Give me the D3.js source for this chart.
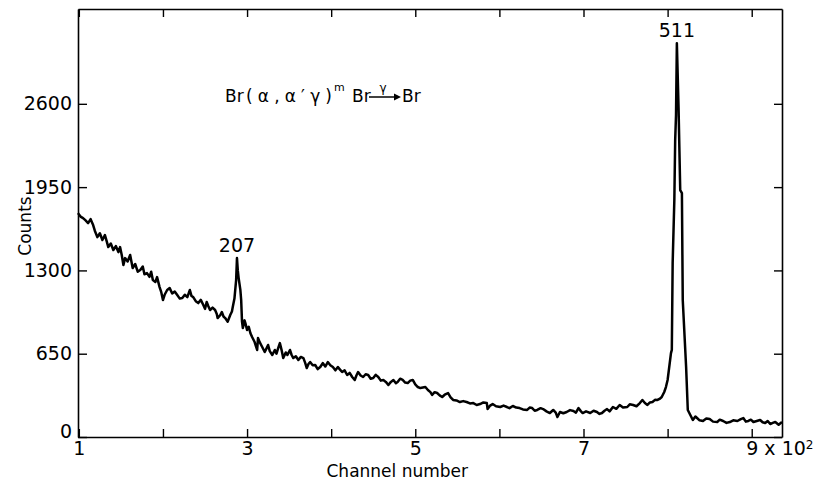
<!DOCTYPE html>
<html>
<head>
<meta charset="utf-8">
<script src="https://cdn.jsdelivr.net/npm/d3@7"></script>
<style>
  html, body { margin: 0; padding: 0; background: #fff; }
  svg { display: block; }
  text { font-family: "DejaVu Sans", sans-serif; fill: #000; }
</style>
</head>
<body>
<svg id="chart" width="817" height="486"></svg>
<script>
// ---- data ----
const channels = [99,102,105,108,111,114,117,119,122,125,128,131,133,135,138,141,144,147,149,151,153,155,158,161,164,167,170,173,176,178,181,184,186,188,191,193,196,198,200,202,205,208,211,214,217,220,223,226,229,232,234,236,239,242,245,248,250,252,254,256,259,262,264,265,268,270,272,274,277,280,282,283,285,287,288,289,290,292,293,294,295,297,298,
300,302,304,306,309,311,312,313,315,318,321,323,325,327,330,333,335,337,339,341,343,346,348,351,353,355,358,361,364,367,369,371,373,375,378,381,384,387,390,393,396,399,402,405,408,410,413,416,419,422,425,428,430,432,435,438,441,444,447,450,453,456,459,462,465,468,471,474,477,479,482,485,488,491,494,497,500,503,506,
512,515,518,520,523,526,529,532,535,539,542,545,549,553,557,561,565,569,573,577,581,585,586,589,592,596,601,605,609,612,616,620,624,628,633,636,639,642,645,649,652,656,660,664,667,669,672,676,680,684,688,691,694,697,699,703,708,712,716,719,722,725,728,731,735,739,743,747,752,755,759,763,767,770,773,776,779,782,785,788,791,793,796,798,800,
804,805,806,808,809,810,811,813,815,817,818,822,
824,827,830,833,835,838,842,846,850,854,859,862,866,870,874,878,883,887,890,893,896,899,902,906,910,913,916,919,922,925,928,932,936];
const counts = [1747,1720,1708,1690,1669,1700,1654,1610,1560,1590,1537,1576,1530,1482,1510,1459,1490,1443,1482,1420,1342,1396,1370,1420,1318,1350,1290,1303,1330,1270,1279,1250,1290,1225,1210,1248,1170,1130,1069,1110,1147,1162,1120,1135,1108,1080,1084,1110,1092,1147,1100,1092,1060,1045,1070,1030,1000,1053,1020,991,1010,991,960,928,950,975,940,928,900,952,980,1014,1080,1225,1396,1300,1240,1150,1069,900,850,910,889,
835,860,810,780,741,700,679,772,740,702,663,690,718,670,640,679,650,694,733,680,616,660,640,679,640,616,630,601,625,616,580,538,570,585,560,562,530,546,577,550,585,560,546,520,546,530,507,520,484,500,468,445,480,507,480,468,490,484,455,460,485,468,440,445,430,406,430,445,420,429,455,445,425,421,440,445,410,390,382,
390,367,350,328,350,343,325,312,330,343,310,289,285,273,280,273,262,265,250,257,270,265,218,245,257,240,234,245,234,225,242,230,226,215,211,230,226,205,211,225,218,200,187,211,190,156,195,185,195,210,203,190,226,200,187,200,187,205,195,180,187,205,218,200,234,220,250,230,234,255,250,240,265,289,265,250,270,273,290,289,300,312,351,390,445,
655,680,1357,1849,2317,2512,3073,2574,1927,1903,1069,546,
211,172,133,160,148,130,125,145,140,120,117,135,125,110,117,130,125,140,148,120,125,135,117,125,133,115,109,125,101,110,117,95,117];

const yTicks = [0, 650, 1300, 1950, 2600];
const xTicks = [100, 200, 300, 400, 500, 600, 700, 800, 900];
const xTickLabels = {100: "1", 300: "3", 500: "5", 700: "7", 900: "9"};
const peakLabels = [{channel: 288, count: 1396, text: "207"}, {channel: 811, count: 3073, text: "511"}];
const xTitle = "Channel number";
const yTitle = "Counts";

// ---- layout ----
const svg = d3.select("#chart");
const L = 78, R = 782, T = 9, B = 437;
const x = d3.scaleLinear().domain([99, 936]).range([L, R]);
const y = d3.scaleLinear().domain([0, 3340]).range([B, T]);
const tickFont = 19;

// bottom axis
const gB = svg.append("g").attr("transform", `translate(0,${B})`)
  .call(d3.axisBottom(x).tickValues(xTicks).tickSize(-8).tickSizeOuter(0).tickPadding(5)
    .tickFormat(d => xTickLabels[d] || ""));
gB.selectAll("text").style("font-size", tickFont + "px");
gB.selectAll(".tick").filter(d => d === 900).select("text")
  .attr("text-anchor", "start").attr("x", -6)
  .text(null)
  .call(t => {
    t.append("tspan").text("9 x 10");
    t.append("tspan").text("2").attr("font-size", 12).attr("dy", "-0.55em");
  });

// top axis
svg.append("g").attr("transform", `translate(0,${T})`)
  .call(d3.axisTop(x).tickValues(xTicks).tickSize(-8).tickSizeOuter(0).tickFormat(""));

// left axis
const gL = svg.append("g").attr("transform", `translate(${L},0)`)
  .call(d3.axisLeft(y).tickValues(yTicks).tickSize(-9).tickSizeOuter(0).tickPadding(6).tickFormat(d3.format("d")));
gL.selectAll("text").style("font-size", tickFont + "px");
gL.selectAll(".tick").filter(d => d === 0).select("text").attr("y", -6);

// right axis
svg.append("g").attr("transform", `translate(${R},0)`)
  .call(d3.axisRight(y).tickValues(yTicks).tickSize(-8).tickSizeOuter(0).tickFormat(""));

svg.selectAll(".domain").attr("stroke", "#000").attr("stroke-width", 1.6);
svg.selectAll(".tick line").attr("stroke", "#000").attr("stroke-width", 1.4);

// spectrum line
const pts = channels.map((c, i) => [c, counts[i]]);
svg.append("path")
  .datum(pts)
  .attr("fill", "none")
  .attr("stroke", "#000")
  .attr("stroke-width", 2.5)
  .attr("stroke-linejoin", "round")
  .attr("d", d3.line().x(d => x(d[0])).y(d => y(d[1])));

// peak labels
svg.selectAll(".peak").data(peakLabels).enter().append("text")
  .attr("class", "peak")
  .attr("x", d => x(d.channel))
  .attr("y", d => y(d.count) - 6)
  .attr("text-anchor", "middle")
  .style("font-size", "19px")
  .text(d => d.text);

// axis titles
svg.append("text").attr("x", x(500) - 18).attr("y", 477).attr("text-anchor", "middle")
  .style("font-size", "17px").text(xTitle);
svg.append("text").attr("transform", "translate(31,226) rotate(-90)").attr("text-anchor", "middle")
  .style("font-size", "17px").text(yTitle);

// reaction annotation
const ann = svg.append("g").style("font-size", "17px");
ann.append("text").attr("x", 225).attr("y", 102).text("Br");
ann.append("text").attr("x", 246).attr("y", 102).attr("textLength", 86).attr("lengthAdjust", "spacing")
  .text("(α,α′γ)");
ann.append("text").attr("x", 334).attr("y", 91).style("font-size", "11px").text("m");
ann.append("text").attr("x", 352).attr("y", 102).text("Br");
ann.append("line").attr("x1", 369).attr("x2", 396).attr("y1", 97).attr("y2", 97)
  .attr("stroke", "#000").attr("stroke-width", 1.5);
ann.append("path").attr("d", "M394,93.5 L401,97 L394,100.5 Z").attr("fill", "#000");
ann.append("text").attr("x", 383).attr("y", 92).attr("text-anchor", "middle").style("font-size", "12px").text("γ");
ann.append("text").attr("x", 402).attr("y", 102).text("Br");
</script>
</body>
</html>
